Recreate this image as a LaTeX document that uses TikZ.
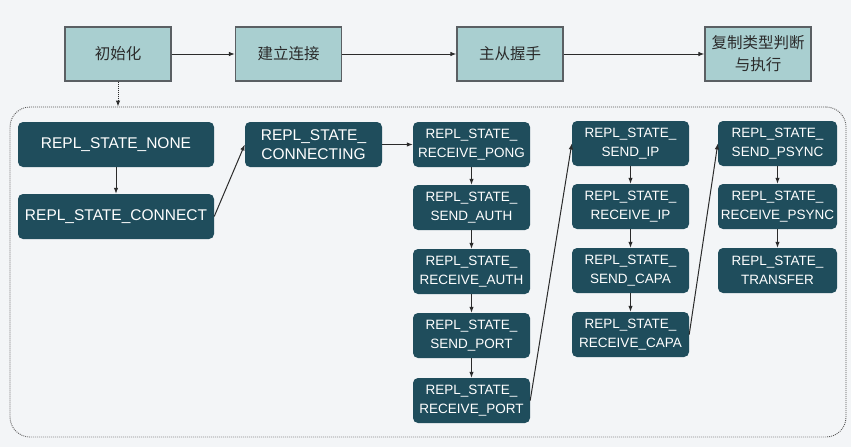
\documentclass[tikz,border=0pt]{standalone}
\usepackage{fontspec}
\setmainfont{Liberation Sans}
\newfontfamily\cjk{Noto Sans CJK SC}
\usetikzlibrary{arrows.meta,positioning}
\definecolor{paper}{HTML}{F3F5F7}
\definecolor{stage}{HTML}{A9CFD0}
\definecolor{deep}{HTML}{1F4D5C}
\definecolor{rim}{HTML}{5A5F63}
\definecolor{ink}{HTML}{2B2B2B}
\tikzset{>={Latex[length=6pt,width=4.5pt]},stagebox/.style={draw=rim,line width=1.2pt,fill=stage,minimum width=106pt,minimum height=54pt,align=center,inner sep=0pt,font=\cjk\fontsize{15.5}{22}\selectfont,text=ink},state/.style={fill=deep,rounded corners=5pt,text=white,align=center,minimum height=45pt,inner sep=0pt},widestate/.style={state,minimum width=196pt,font=\fontsize{15.5}{19}\selectfont},colstate/.style={state,minimum width=117pt,font=\fontsize{13.5}{19}\selectfont},arr/.style={->,line width=1pt,ink},frame/.style={draw=ink!80,dash pattern=on .9pt off 1.1pt,line width=.9pt,rounded corners=20pt,minimum width=836pt,minimum height=330pt,inner sep=0pt}}

\begin{document}
\begin{tikzpicture}[x=1pt,y=-1pt]
\fill[paper] (0,0) rectangle (851,447);
\useasboundingbox (0,0) rectangle (851,447);
% top stages
\node[stagebox] (init) at (118,54) {初始化};
\node[stagebox] (link) at (288.5,54) {建立连接};
\node[stagebox] (shake) at (510,54) {主从握手};
\node[stagebox] (exec) at (758,54) {复制类型判断\\与执行};
\draw[arr] (init) -- (link);
\draw[arr] (link) -- (shake);
\draw[arr] (shake) -- (exec);
% state group
\node[frame] (group) at (428,272) {};
\draw[arr,densely dotted] (init.south) -- (init.south |- group.north);
\node[widestate] (none) at (116,144.5) {REPL\_STATE\_NONE};
\node[widestate] (connect) at (116,216.5) {REPL\_STATE\_CONNECT};
\node[state,minimum width=137pt,font=\fontsize{15.5}{19}\selectfont] (connecting) at (313.5,144.5) {REPL\_STATE\_\\CONNECTING};
\foreach \name/\y/\txt in {pong/144.5/RECEIVE\_PONG,sauth/207.5/SEND\_AUTH,rauth/271.5/RECEIVE\_AUTH,sport/335.5/SEND\_PORT,rport/400.5/RECEIVE\_PORT}
\node[colstate] (\name) at (471.5,\y) {REPL\_STATE\_\\\txt};
\foreach \name/\y/\txt in {sip/143.5/SEND\_IP,rip/206.5/RECEIVE\_IP,scapa/270.5/SEND\_CAPA,rcapa/334.5/RECEIVE\_CAPA}
\node[colstate] (\name) at (630.5,\y) {REPL\_STATE\_\\\txt};
\foreach \name/\y/\txt in {spsync/143.5/SEND\_PSYNC,rpsync/206.5/RECEIVE\_PSYNC,transfer/270.5/TRANSFER}
\node[colstate,minimum width=119pt] (\name) at (777.5,\y) {REPL\_STATE\_\\\txt};
\foreach \a/\b in {none/connect,pong/sauth,sauth/rauth,rauth/sport,sport/rport,sip/rip,rip/scapa,scapa/rcapa,spsync/rpsync,rpsync/transfer}
\draw[arr] (\a) -- (\b);
\draw[arr] (connect.east) -- (connecting.west);
\draw[arr] (connecting) -- (pong);
\draw[arr] (rport.east) -- (sip.west);
\draw[arr] (rcapa.east) -- (spsync.west);
\end{tikzpicture}
\end{document}
